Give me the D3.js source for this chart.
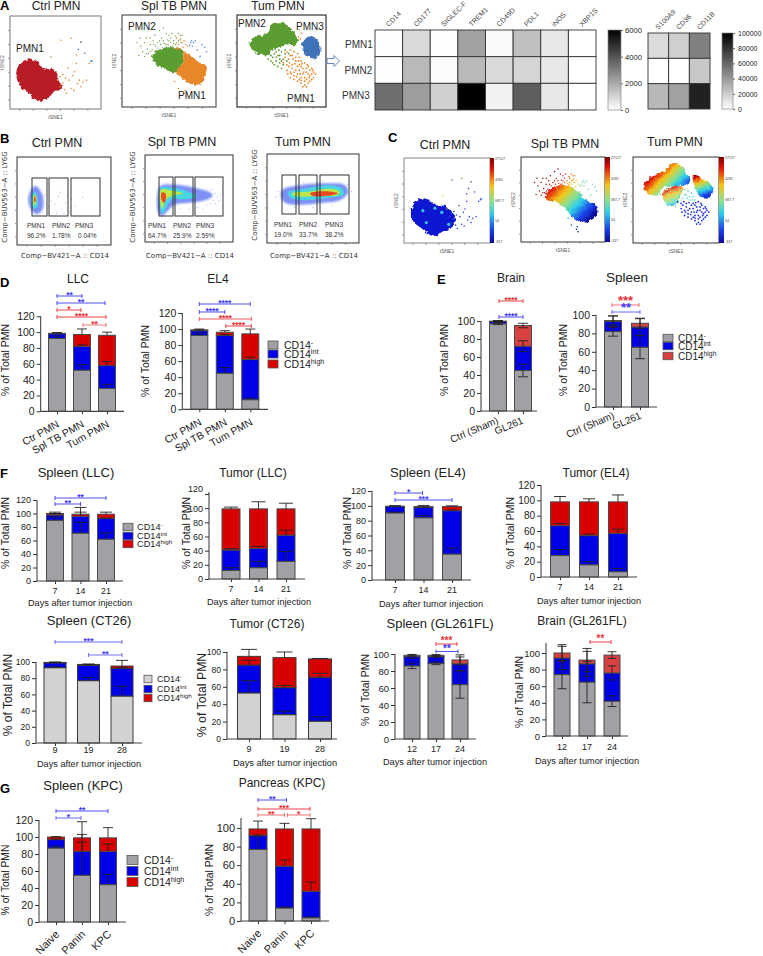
<!DOCTYPE html>
<html><head><meta charset="utf-8">
<script src="https://cdn.jsdelivr.net/npm/d3@7"></script>
<style>
html,body{margin:0;padding:0;background:#fff}
svg{position:absolute;left:0;top:0;display:block}
text{font-family:"Liberation Sans",Arial,sans-serif;fill:#222}
</style></head><body>
<svg id="fig" width="763" height="956" viewBox="0 0 763 956"></svg>
<script>
/* ---------- heatmap data (panel A) ---------- */
const heatCols1=["CD14","CD177","SIGLEC-F","TREM1","CD49D","PDL1","iNOS","XBP1S"];
const heatCols2=["S100A9","CD36","CD11B"];
const heatRows=["PMN1","PMN2","PMN3"];
const heat1PMN1=[50,900,50,2200,150,1500,550,0];
const heat1PMN2=[50,1650,100,1650,900,1000,550,0];
const heat1PMN3=[3400,2300,1100,6000,300,3800,550,0];
const heat2PMN1=[14000,19000,50000];
const heat2PMN2=[0,0,22000];
const heat2PMN3=[28000,37000,87000];
const barTicks1=[0,2000,4000,6000];
const barTicks2=[0,20000,40000,60000,80000,100000];

/* ---------- t-SNE outlines and sparse events (percent of the plot axes) ---------- */
const ctrlRedHull=[[7,40],[10,47],[15,52],[25,53],[33,49],[37,43],[47,43],[52,39],[52,31],[56,26],[57,21],[49,19],[44,14],[36,9],[27,11],[20,17],[12,24],[8,31]];
const ctrlOrangeDots=[[55,35],[58,37],[53,31],[65,31],[73,49],[71,40],[76,31],[78,24],[84,31],[67,22],[60,21],[80,29],[64,44],[78,72],[67,76],[56,74],[73,58],[87,49],[62,17],[55,24],[61,33],[69,36],[74,27],[70,20],[58,28]];
const ctrlBlueDots=[[82,60],[89,51],[75,64],[78,72],[90,52]];
const ctrlGreenDots=[[45,56],[50,40]];
const splGreenHull=[[32,54],[36,60],[41,63],[51,65],[64,62],[64,47],[58,38],[48,40],[42,44],[37,45]];
const splOrangeHull=[[53,65],[62,62],[69,58],[80,50],[90,44],[89,36],[87,29],[80,23],[74,25],[69,27],[63,32],[57,38],[64,47],[64,62]];
const splGreenDots=[[16,70],[20,66],[24,70],[22,60],[27,63],[30,68],[33,72],[28,58],[24,55],[35,78],[38,70],[42,75],[45,69],[48,73],[40,83],[44,86],[50,78],[52,70],[55,72],[57,77],[60,80],[62,74],[64,78],[36,66],[32,62],[46,64],[30,75],[26,75],[19,75],[54,66],[58,70],[41,68],[35,60],[18,56],[50,72],[52,75],[47,68],[44,72],[55,69],[60,72],[57,68],[49,68],[38,64],[30,60],[26,58],[34,68],[40,72],[63,70],[53,80],[47,80]];
const splOrangeDots=[[62,73],[64,70],[66,72],[60,68],[68,68],[58,75],[70,66],[62,78],[65,65],[67,18],[68,12],[66,15],[56,28],[60,20]];
const splBlueDots=[[74,72],[76,70],[73,70],[78,72],[75,66],[85,68],[88,65],[90,60],[83,55],[80,62],[72,67]];
const tumGreenHull=[[14,70],[20,76],[34,80],[39,90],[49,92],[59,87],[66,78],[68,71],[65,67],[56,69],[51,66],[41,64],[35,57],[26,57],[19,60]];
const tumBlueHull=[[73,69],[80,77],[90,73],[94,62],[88,53],[78,56]];
const tumOrangeDots=[[56,60],[60,62],[64,60],[68,58],[70,54],[62,56],[58,52],[66,50],[72,50],[76,48],[80,44],[84,42],[86,38],[82,34],[78,38],[74,42],[68,44],[62,46],[56,46],[52,48],[56,40],[60,38],[64,34],[68,36],[72,32],[76,28],[80,26],[84,30],[86,32],[74,22],[78,22],[72,26],[68,28],[64,30],[60,32],[70,40],[66,40],[74,36],[80,36],[76,32],[88,36],[82,40],[58,44],[62,42],[54,54],[70,46],[66,54],[78,42],[60,56],[76,24],[70,30],[64,38],[82,28],[72,44],[84,36],[65,47],[59,48],[73,47],[67,33],[71,36],[78,30],[81,32],[63,52],[69,50],[75,38],[61,36],[57,36],[72,29],[85,40],[79,46]];
const tumGreenDots=[[36,58],[40,54],[44,60],[48,56],[52,52],[44,50],[38,50],[48,48],[54,58],[42,46],[46,44],[50,42],[35,52],[52,46],[56,50],[40,62],[47,62],[58,58],[42,58],[38,56],[46,56],[50,60],[44,54],[40,48],[50,50],[36,60],[48,52],[54,62],[32,56],[43,63]];
const tumBlueDots=[[70,84],[72,80],[69,76],[71,74]];
/* heat-map panel C shares the t-SNE maps */
const ctrlBlueHull=[[8,37],[11,45],[15,50],[26,52],[36,45],[50,43],[55,38],[58,33],[59,23],[52,17],[44,13],[34,8],[21,17],[11,25]];
const ctrlHotSpots=[[22,38],[26,24],[52,22],[36,41],[44,36]];
const spl2Hull=[[31,59],[50,67],[66,61],[78,49],[90,43],[90,32],[78,23],[66,26],[52,39],[43,47],[31,49]];
const tum2MainHull=[[14,70],[22,77],[36,83],[47,93],[57,89],[63,79],[67,73],[61,68],[47,66],[34,64],[30,56],[20,56],[14,62]];
const tum2MidHull=[[34,58],[47,66],[57,64],[55,54],[49,44],[39,44],[35,50]];
const tum2RightHull=[[70,79],[80,75],[93,66],[90,54],[78,54],[72,64]];
/* density contours for panel B, low to high */
const flowLevels=["#7b90f5","#48d4e2","#b8e84a","#ea4a20"];
const flowCtrl=[[[12,51],[15,63],[20,67],[27,57],[27,40],[21,35],[15,40]],[[15,51],[17,59],[20,60],[22,51],[21,42],[17,42]],[[17,51],[18,57],[20,56],[20,47],[18,45]],[[18,52],[19,56],[20,51],[19,48]]];
const flowSpl=[[[17,64],[34,66],[57,62],[74,57],[77,53],[68,48],[51,45],[34,43],[19,30],[15,34]],[[18,62],[34,62],[51,57],[59,52],[45,49],[31,49],[20,33],[17,40]],[[18,60],[31,59],[43,56],[31,53],[23,48],[20,38],[18,42]],[[19,57],[23,56],[24,52],[22,45],[19,48]]];
const flowTum=[[[17,60],[36,65],[63,67],[85,65],[88,57],[79,48],[58,45],[36,43],[20,45],[15,52]],[[23,57],[41,61],[66,65],[82,61],[83,54],[68,51],[41,48],[25,51]],[[27,56],[47,58],[68,61],[79,58],[77,54],[60,53],[41,52],[29,53]],[[47,56],[68,58],[77,56],[66,53],[49,53]]];
const flowCtrlDots=[[36,50],[40,46],[44,55],[48,42],[52,48],[56,38],[34,44],[46,60],[58,52],[62,44],[30,56],[54,56],[70,54],[42,36],[50,36]];
const flowSplDots=[[78,48],[82,52],[80,56],[74,44],[84,48],[70,42],[60,40],[50,38],[40,38],[66,38],[80,44],[76,60],[86,54]];
const flowTumDots=[[10,52],[12,58],[92,58],[90,50],[88,66],[70,42],[50,40],[30,40],[60,70],[40,68]];
const flowPct1=["96.2%","1.78%","0.04%"],flowPct2=["64.7%","25.9%","2.59%"],flowPct3=["19.0%","33.7%","38.2%"];
const flowGateNames=["PMN1","PMN2","PMN3"];
const jetLabels=["27127","4281","687.7","54","-317"];

/* ---------- stacked bar data ---------- */
const catsPMN=["Ctr PMN","Spl TB PMN","Tum PMN"];
const catsSham=["Ctrl (Sham)","GL261"];
const daysA=["7","14","21"],daysB=["9","19","28"],daysC=["12","17","24"];
const catsKPC=["Naive","Panin","KPC"];
const ticks120=[0,20,40,60,80,100,120];
const ticks100=[0,20,40,60,80,100];
const llcGrey=[92,52,29],llcInt=[6,30,29],llcHigh=[0.5,15,38],llcSd=[[3,7,5],[1,2,5],[1,7,4]];
const el4Grey=[92,45,12],el4Int=[6,47,50],el4High=[1,4,32],el4Sd=[[3,7,2],[1,1,3],[1,2,6]];
const brainGrey=[97,45],brainInt=[2.5,27],brainHigh=[0.3,23],brainSd=[[1,7],[1,6],[0.5,2.5]];
const spleenGrey=[82,65],spleenInt=[11,22],spleenHigh=[1,4],spleenSd=[[5,12.5],[6,9],[5,5.5]];
const splLLCGrey=[90,71,62],splLLCInt=[8,25,31],splLLCHigh=[2,3,6],splLLCSd=[[5,16,9],[2,6,0],[2,10,3]];
const tumLLCGrey=[12,16,25],tumLLCInt=[29,27,37],tumLLCHigh=[58,56,37],tumLLCSd=[[4,9,14],[2,3,7],[2.5,10,8]];
const splEL4Grey=[90.5,84,35],splEL4Int=[8.5,14,58.5],splEL4High=[0.5,1,5.5],splEL4Sd=[[1,3,8],[1,0,1],[0.5,1.5,1]];
const tumEL4Grey=[28,16,7],tumEL4Int=[39,38,50],tumEL4High=[31,44,41],tumEL4Sd=[[8,4,4],[3,2,5.5],[7,4,9]];
const splCTGrey=[93,77,58],splCTInt=[6,19,34],splCTHigh=[0.5,1,3],splCTSd=[[1,4,12],[0.5,1,1],[0.5,0.5,7]];
const tumCTGrey=[53,28,20.5],tumCTInt=[32,31,50.5],tumCTHigh=[10,34.5,21],tumCTSd=[[14,4,5],[5.5,2.5,4.5],[8,6.5,0.5]];
const splGLGrey=[86,89,64],splGLInt=[11,8,24.5],splGLHigh=[1.5,1.5,4.5],splGLSd=[[3.2,1.5,16],[2,1,8],[1,1,6]];
const brGLGrey=[74,65,42],brGLInt=[20,22,34],brGLHigh=[6,4.5,21.5],brGLSd=[[17,25,6.5],[14,15,8.5],[10,14,4]];
const splKPCGrey=[87,55,44],splKPCInt=[10,28,39],splKPCHigh=[3,16,16],splKPCSd=[[2,39,12],[0.5,20,9],[0.5,19,12]];
const panKPCGrey=[77,14,3.5],panKPCInt=[15,45,28.5],panKPCHigh=[7,40,67],panKPCSd=[[14,1,1],[0.5,6.5,10],[8.5,6,11]];
const legendSup=["-","int","high"];

/* ---------- drawing ---------- */
const svg=d3.select("#fig");
const defs=svg.append("defs");
defs.append("filter").attr("id","soft").append("feGaussianBlur").attr("stdDeviation",0.7);
defs.append("filter").attr("id","soft2").append("feGaussianBlur").attr("stdDeviation",1.2);
const rough=defs.append("filter").attr("id","rough").attr("x","-10%").attr("y","-10%").attr("width","120%").attr("height","120%");
rough.append("feTurbulence").attr("type","fractalNoise").attr("baseFrequency",.28).attr("numOctaves",2).attr("seed",4).attr("result","n");
rough.append("feDisplacementMap").attr("in","SourceGraphic").attr("in2","n").attr("scale",5).attr("xChannelSelector","R").attr("yChannelSelector","G");
const GREY="#a0a0a5",BLUE="#0000e6",RED="#d80000",RED2="#d94040",LGREY="#d2d2d2";
const SB="#3d3df2",SR="#ea2f35";
const jet=[[0,"#7a0000"],[0.12,"#e01005"],[0.33,"#f5c518"],[0.5,"#8fe08a"],[0.65,"#30d0e8"],[0.85,"#1a40e8"],[1,"#0a0a9a"]];

function txt(s,x,y,size,anchor,opts={}){
  const t=svg.append("text").attr("x",x).attr("y",y).attr("font-size",size).attr("text-anchor",anchor||"start").text(s);
  if(opts.rot!==undefined){t.attr("transform",`rotate(${opts.rot},${x},${y})`);}
  if(opts.weight)t.attr("font-weight",opts.weight);
  if(opts.fill)t.style("fill",opts.fill);
  if(opts.family)t.style("font-family",opts.family);
  return t;
}
function boxFrame(b,col,sw){
  const x=d3.scaleLinear([0,100],[b.x0,b.x1]),y=d3.scaleLinear([0,100],[b.y1,b.y0]);
  const g=svg.append("g");
  g.append("rect").attr("x",b.x0).attr("y",b.y0).attr("width",b.x1-b.x0).attr("height",b.y1-b.y0).attr("fill","#fff").attr("stroke",col||"#555").attr("stroke-width",sw||1);
  const tv=[10,25,40,55,70,85];
  const ax=g.append("g").attr("transform",`translate(0,${b.y1})`).call(d3.axisBottom(x).tickValues(tv).tickSize(2).tickFormat(""));
  const ay=g.append("g").attr("transform",`translate(${b.x0},0)`).call(d3.axisLeft(y).tickValues(tv).tickSize(2).tickFormat(""));
  [ax,ay].forEach(a=>{a.select(".domain").remove();a.selectAll("line").attr("stroke","#777").attr("stroke-width",.7);});
  return {x,y,g};
}
const hullPath=(f,x,y)=>d3.line().x(d=>x(d[0])).y(d=>y(d[1])).curve(d3.curveCatmullRomClosed.alpha(.5))(f);
function hull(f,p,fill,op,flt){
  const e=p.g.append("path").attr("d",hullPath(f,p.x,p.y)).attr("fill",fill).attr("opacity",op===undefined?1:op);
  if(flt)e.attr("filter",`url(#${flt})`);
}
function dots(list,p,fill,r){
  p.g.selectAll(null).data(list).enter().append("circle").attr("cx",d=>p.x(d[0])).attr("cy",d=>p.y(d[1])).attr("r",r||.9).attr("fill",fill);
}
function tsneLabels(b){
  txt("tSNE1",(b.x0+b.x1)/2,b.y1+10,5,"middle",{fill:"#555"});
  txt("tSNE2",b.x0-6,(b.y0+b.y1)/2,5,"middle",{rot:-90,fill:"#555"});
}
/* Panel A */
const GR="#5b9d32",OR="#e8862a",BL="#3f72b8",DR="#b81f27";
const a1={x0:10,x1:101,y0:16,y1:109},a2={x0:122,x1:216,y0:15,y1:107},a3={x0:237,x1:326,y0:15,y1:107};
let p=boxFrame(a1,"#777",1);tsneLabels(a1);
hull(ctrlRedHull,p,DR,1,"rough");dots(ctrlOrangeDots,p,OR,.8);dots(ctrlBlueDots,p,BL,.8);dots(ctrlGreenDots,p,GR,.7);
p=boxFrame(a2,"#555",1.2);tsneLabels(a2);
dots(splGreenDots,p,"#6aa83f",.7);hull(splGreenHull,p,GR,1,"rough");hull(splOrangeHull,p,OR,1,"rough");dots(splOrangeDots,p,OR,.8);dots(splBlueDots,p,"#5a8ed0",.8);
p=boxFrame(a3,"#333",1.2);tsneLabels(a3);
dots(tumGreenDots,p,GR,.9);dots(tumOrangeDots,p,OR,.9);hull(tumGreenHull,p,GR,1,"rough");hull(tumBlueHull,p,BL,1,"rough");dots(tumBlueDots,p,OR,.8);
[["Ctrl PMN",56,9.5],["Spl TB PMN",174,9.5],["Tum PMN",278,9.5]].forEach(d=>txt(d[0],d[1],d[2],12,"middle"));
[["PMN1",16,52],["PMN2",128,30],["PMN1",178,99],["PMN2",238,27],["PMN3",296,30],["PMN1",287,102]].forEach(d=>txt(d[0],d[1],d[2],10,"start"));
svg.append("path").attr("d","M327,58.5h7v-3l5.5,5.5l-5.5,5.5v-3h-7z").attr("fill","#fff").attr("stroke","#5a78b8").attr("stroke-width",.9);

function heat(x0,x1,y0,y1,cols,rows,max){
  const xs=d3.scaleBand(cols,[x0,x1]),ys=d3.scaleBand(heatRows,[y0,y1]);
  const col=d3.scaleLinear([0,max],["#ffffff","#000000"]);
  rows.forEach((r,i)=>{
    svg.selectAll(null).data(r).enter().append("rect")
      .attr("x",(d,j)=>xs(cols[j])).attr("y",ys(heatRows[i])).attr("width",xs.bandwidth()).attr("height",ys.bandwidth())
      .attr("fill",d=>col(d)).attr("stroke","#333").attr("stroke-width",.9);
  });
  cols.forEach(c=>{const cx=xs(c)+xs.bandwidth()/2;
    txt(c,cx,y0-3,7,"start",{rot:-45,fill:"#444"});});
}
heat(375,596,30,110,heatCols1,[heat1PMN1,heat1PMN2,heat1PMN3],6000);
heat(648,710,33,109,heatCols2,[heat2PMN1,heat2PMN2,heat2PMN3],100000);
heatRows.forEach((r,i)=>txt(r,[345,344.5,342][i],[48,74,99][i],10,"start",{fill:"#333"}));
const greyG=defs.append("linearGradient").attr("id","greyBar").attr("x1",0).attr("y1",0).attr("x2",0).attr("y2",1);
greyG.append("stop").attr("offset",0).attr("stop-color","#000");greyG.append("stop").attr("offset",1).attr("stop-color","#fff");
function greyBar(x0,x1,y0,y1,ticks,max,font,dx){
  svg.append("rect").attr("x",x0).attr("y",y0).attr("width",x1-x0).attr("height",y1-y0).attr("fill","url(#greyBar)").attr("stroke","#888").attr("stroke-width",.7);
  const y=d3.scaleLinear([0,max],[y1,y0]);
  const a=svg.append("g").attr("transform",`translate(${x1},0)`).call(d3.axisRight(y).tickValues(ticks).tickSize(2).tickFormat(d3.format("d")));
  a.select(".domain").remove();a.selectAll("line").attr("stroke","#666");
  a.selectAll("text").attr("font-size",font).style("font-family","Liberation Sans").attr("dx",dx);
}
greyBar(608,621,30,110,barTicks1,6000,7.6,-1);greyBar(722,733,33,109,barTicks2,100000,7,0);

/* Panel B */
function flow(b,levels,sparse,gates,pct,nameX,pctX,yName,title,tx,ty,lx,cy,axX){
  const q=boxFrame(b,"#333",1);
  dots(sparse,q,"#8a9cf0",.5);
  levels.forEach((lv,i)=>hull(lv,q,flowLevels[i],1,i==0?"soft2":"soft"));
  gates.forEach(g=>svg.append("rect").attr("x",g[0]).attr("y",g[2]).attr("width",g[1]-g[0]).attr("height",g[3]-g[2]).attr("fill","none").attr("stroke","#333").attr("stroke-width",1));
  flowGateNames.forEach((n,i)=>{txt(n,nameX[i],yName,6.5,"start",{fill:"#333"});txt(pct[i],pctX[i],yName+9.5,6.5,"start",{fill:"#333"});});
  txt(title,tx,ty,12.5,"middle");
  txt("Comp\u2212BUV563\u2212A :: LY6G",lx,cy,7,"middle",{rot:-90,family:"DejaVu Sans",fill:"#333"});
  txt("Comp\u2212BV421\u2212A :: CD14",axX,258,7,"middle",{family:"DejaVu Sans",fill:"#333"});
}
flow({x0:17,x1:111,y0:157,y1:245},flowCtrl,flowCtrlDots,[[32,47,178,216],[49,68,178,216],[71,100,178,216]],flowPct1,[27,52,75],[27,52,78],228,"Ctrl PMN",57,147,7,197,65);
flow({x0:145,x1:233,y0:155,y1:242},flowSpl,flowSplDots,[[159,173,177,216],[175,193,177,216],[195,223,177,216]],flowPct2,[148,173,196],[148,173,196],228,"Spl TB PMN",182,146,135,197,190);
flow({x0:267,x1:359,y0:154,y1:243},flowTum,flowTumDots,[[282,296,175,214],[299,317,175,214],[320,349,175,214]],flowPct3,[274,299,325],[274,299,325],227,"Tum PMN",303,146,257,195,314);

/* Panel C */
function jetGrad(id,x1,y1,x2,y2){
  const g=defs.append("linearGradient").attr("id",id).attr("gradientUnits","userSpaceOnUse").attr("x1",x1).attr("y1",y1).attr("x2",x2).attr("y2",y2);
  jet.forEach(s=>g.append("stop").attr("offset",s[0]).attr("stop-color",s[1]));
  return `url(#${id})`;
}
function jetBar(id,x0,x1,y0,y1){
  const f=jetGrad(id,0,y0,0,y1);
  svg.append("rect").attr("x",x0).attr("y",y0).attr("width",x1-x0).attr("height",y1-y0).attr("fill",f);
  const ys=d3.scalePoint(jetLabels,[y0+1,y1-1]);
  jetLabels.forEach(l=>txt(l,x1+1,ys(l)+1,3.6,"start",{fill:"#444"}));
}
const c1={x0:404,x1:490,y0:158,y1:243},c2={x0:521,x1:605,y0:157,y1:242},c3={x0:633,x1:719,y0:157,y1:243};
p=boxFrame(c1,"#888",1);tsneLabels(c1);jetBar("jb1",490,494,158,243);
hull(ctrlBlueHull,p,"#0a14d0",1,"rough");dots(ctrlHotSpots,p,"#38c8e0",1.6);dots(ctrlOrangeDots,p,"#2a50e0",.8);dots(ctrlBlueDots,p,"#2a50e0",.8);dots(ctrlGreenDots,p,"#e8d830",.7);
dots([[67,76],[56,74],[78,72]],p,"#e8c840",.8);
p=boxFrame(c2,"#333",1);tsneLabels(c2);jetBar("jb2",605,610,157,242);
const g2=jetGrad("g2",p.x(30),p.y(68),p.x(78),p.y(22));
dots(splGreenDots,p,g2,.7);dots(splOrangeDots,p,g2,.8);dots(splBlueDots,p,"#7ad8a0",.8);
hull(spl2Hull,p,g2,1,"rough");
p=boxFrame(c3,"#333",1);tsneLabels(c3);jetBar("jb3",719,724,157,243);
const g3=jetGrad("g3",p.x(28),p.y(90),p.x(62),p.y(56));
const g3b=jetGrad("g3b",p.x(40),p.y(66),p.x(52),p.y(36));
const g3c=jetGrad("g3c",p.x(72),p.y(80),p.x(84),p.y(50));
hull(tum2MainHull,p,g3,1,"rough");hull(tum2MidHull,p,g3b,.8,"rough");hull(tum2RightHull,p,g3c,1,"rough");
dots(tumOrangeDots.filter(d=>d[1]<50),p,"#1a30e0",.9);dots(tumOrangeDots.filter(d=>d[1]>=50),p,"#48d8c8",.8);dots(tumGreenDots,p,"#b0e070",.7);
[["Ctrl PMN",445,149],["Spl TB PMN",565,148],["Tum PMN",675,146]].forEach(d=>txt(d[0],d[1],d[2],12.5,"middle"));

/* Stacked bars */
function bars(c){
  const [c0,c1]=c.centres;
  const x=d3.scalePoint(c.cats,[c0,c1]);
  const y=d3.scaleLinear([0,c.max],[c.y0,c.yTop]);
  const g=svg.append("g");
  const stack=c.grey.map((v,i)=>({grey:v,int:c.int[i],high:c.high[i],cat:c.cats[i]}));
  const ser=d3.stack().keys(["grey","int","high"])(stack);
  const fills=[c.greyFill||GREY,BLUE,c.highFill||RED];
  ser.forEach((s,si)=>{
    g.selectAll(null).data(s).enter().append("rect")
      .attr("x",d=>x(d.data.cat)-c.w/2).attr("width",c.w)
      .attr("y",d=>y(d[1])).attr("height",d=>Math.max(0,y(d[0])-y(d[1])))
      .attr("fill",fills[si]).attr("stroke",c.edge||"#4a4a4a").attr("stroke-width",1);
  });
  ser.forEach((s,si)=>{
    s.forEach((d,i)=>{
      const top=d[1],sd=c.sd[si][i],cx=x(d.data.cat),hw=c.cap||5;
      const lo=c.both?top-sd:top,hi=top+sd;
      const e=g.append("g").attr("stroke","#222").attr("stroke-width",.9);
      e.append("line").attr("x1",cx).attr("x2",cx).attr("y1",y(lo)).attr("y2",y(hi));
      e.append("line").attr("x1",cx-hw).attr("x2",cx+hw).attr("y1",y(hi)).attr("y2",y(hi));
      if(c.both)e.append("line").attr("x1",cx-hw).attr("x2",cx+hw).attr("y1",y(lo)).attr("y2",y(lo));
    });
  });
  /* axes */
  const ax=d3.axisLeft(y).tickValues(c.ticks).tickSize(4).tickPadding(2);
  const ag=g.append("g").attr("transform",`translate(${c.ax},0)`).call(ax);
  ag.select(".domain").remove();
  ag.append("line").attr("x1",0).attr("x2",0).attr("y1",c.y0).attr("y2",c.axTop||c.yTop).attr("stroke","#333").attr("stroke-width",1);
  ag.selectAll("text").attr("font-size",c.tickFont||10.5).style("fill","#222");
  ag.selectAll(".tick line").attr("stroke","#333");
  if(c.nudgeTop)ag.selectAll(".tick").filter(d=>d===c.max).select("text").attr("dy","-0.3em");
  const bg=g.append("g").attr("transform",`translate(0,${c.y0})`).call(d3.axisBottom(x).tickSize(3).tickFormat(""));
  bg.select(".domain").remove();bg.selectAll("line").attr("stroke","#333");
  g.append("line").attr("x1",c.ax).attr("x2",c.xEnd).attr("y1",c.y0).attr("y2",c.y0).attr("stroke","#444").attr("stroke-width",1.2);
  /* texts */
  txt(c.title,c.tx,c.ty,c.titleFont||12,"middle");
  txt("% of Total PMN",c.lx,c.ly,c.labelFont||10.5,"middle",{rot:-90});
  if(c.rot!==undefined){
    c.cats.forEach(k=>txt(k,x(k)+(c.rotDx||3),c.y0+(c.rotDy||14),c.xFont||10.5,"end",{rot:c.rot}));
  }else{
    c.cats.forEach(k=>txt(k,x(k),c.tickY,9,"middle"));
    txt("Days after tumor injection",c.xlx,c.xly,9.2,"middle");
  }
  /* significance brackets */
  (c.sig||[]).forEach(b=>{
    const x1=x(c.cats[b[0]])+(b[5]||0),x2=x(c.cats[b[1]])+(b[6]||0),yy=b[2],col=b[4];
    const sg=g.append("g").attr("stroke",col).attr("stroke-width",.9).attr("opacity",b[7]||1);
    sg.append("path").attr("fill","none").attr("d",`M${x1},${yy-2}V${yy+2}M${x1},${yy}H${x2}M${x2},${yy-2}V${yy+2}`);
    const fs=b[8]||8.5;
    txt(b[3],(x1+x2)/2,yy+(fs>=10?0:1.5),fs,"middle",{fill:col,weight:"bold"});
  });
}
function legend(x,ys,tx,w,h,font,fills){
  legendSup.forEach((s,i)=>{
    svg.append("rect").attr("x",x).attr("y",ys[i]-h/2).attr("width",w).attr("height",h).attr("fill",fills[i]).attr("stroke","#555").attr("stroke-width",.8);
    const t=txt("CD14",tx,ys[i]+font*.36,font,"start");
    t.append("tspan").attr("dy",-font*.35).attr("font-size",font*.68).text(s);
  });
}
bars({cats:catsPMN,grey:llcGrey,int:llcInt,high:llcHigh,sd:llcSd,ticks:ticks120,max:120,
  ax:40.7,y0:411.3,yTop:316.3,xEnd:124,centres:[57,107],w:17,title:"LLC",tx:78,ty:283,lx:8.5,ly:360,rot:-29,rotDx:3,rotDy:15,
  sig:[[0,1,296,"**",SB,0,0],[0,2,303,"**",SB,0,-2],[0,1,310,"*",SR,0,-1],[0,2,317,"****",SR,0,-1],[1,2,325,"**",SR,1,-1,.7]]});
bars({cats:catsPMN,grey:el4Grey,int:el4Int,high:el4High,sd:el4Sd,ticks:ticks120,max:120,
  ax:182.3,y0:409.3,yTop:313,xEnd:268,centres:[199.3,250.3],w:17,title:"EL4",tx:218,ty:283,lx:149,ly:361,rot:-29,rotDx:3,rotDy:15,
  sig:[[0,2,304,"****",SB],[0,1,312,"****",SB],[0,2,319,"****",SR,0,1,.9],[1,2,326,"****",SR,1,1]]});
legend(268,[345,354,364],284,10,8,10.5,[GREY,BLUE,RED]);
bars({cats:catsSham,grey:brainGrey,int:brainInt,high:brainHigh,sd:brainSd,both:true,ticks:ticks100,max:100,
  ax:481,y0:411,yTop:321,xEnd:537,centres:[498,523],w:17,cap:5,highFill:RED2,title:"Brain",tx:511,ty:282,lx:448,ly:360,rot:-23,rotDx:1,rotDy:12,xFont:10,
  sig:[[0,1,301,"****",SR,1,0],[0,1,317,"****",SB,1,0]]});
bars({cats:catsSham,grey:spleenGrey,int:spleenInt,high:spleenHigh,sd:spleenSd,both:true,ticks:ticks100,max:100,
  ax:596,y0:407,yTop:315,xEnd:657,centres:[613,640],w:17,cap:5,highFill:RED2,title:"Spleen",titleFont:13.5,tx:627,ty:282,lx:567,ly:360,rot:-23,rotDx:2,rotDy:11,xFont:10,
  sig:[[0,1,305,"***",SR,-1,-1,.75,13],[0,1,312,"**",SB,-1,0,.85,13]]});
legend(663,[338,346,356],678,10,7.5,10,[GREY,BLUE,RED2]);
bars({cats:daysA,grey:splLLCGrey,int:splLLCInt,high:splLLCHigh,sd:splLLCSd,ticks:ticks120,max:120,
  ax:37,y0:581,yTop:500,xEnd:123,centres:[55,106],w:17,cap:6,title:"Spleen (LLC)",titleFont:13,tx:76,ty:477,lx:8.5,ly:533,tickFont:9,tickY:594,xlx:80,xly:606,
  sig:[[0,2,498,"**",SB],[0,1,504,"**",SB]]});
legend(123,[527,536,544],137,10,7.5,9.2,[GREY,BLUE,RED]);
bars({cats:daysA,grey:tumLLCGrey,int:tumLLCInt,high:tumLLCHigh,sd:tumLLCSd,ticks:ticks120,max:120,nudgeTop:true,
  ax:209,y0:579,yTop:494,axTop:492,xEnd:305,centres:[231,286],w:18,cap:7,title:"Tumor (LLC)",tx:253,ty:477,lx:190,ly:533,tickFont:9,tickY:592,xlx:259,xly:605});
bars({cats:daysA,grey:splEL4Grey,int:splEL4Int,high:splEL4High,sd:splEL4Sd,ticks:ticks120,max:120,
  ax:372,y0:580,yTop:491,xEnd:471,centres:[395,452],w:19,cap:6,title:"Spleen (EL4)",titleFont:13,tx:428,ty:477,lx:351,ly:533,tickFont:9,tickY:593,xlx:431,xly:607,
  sig:[[0,1,493,"*",SB,0,-1],[0,2,500,"***",SB]]});
bars({cats:daysA,grey:tumEL4Grey,int:tumEL4Int,high:tumEL4High,sd:tumEL4Sd,ticks:ticks120,max:120,
  ax:541,y0:577,yTop:485,xEnd:637,centres:[560,618],w:19,cap:6,title:"Tumor (EL4)",tx:596,ty:477,lx:514,ly:533,tickFont:10,tickY:590,xlx:589,xly:604});
bars({cats:daysB,grey:splCTGrey,int:splCTInt,high:splCTHigh,sd:splCTSd,greyFill:LGREY,ticks:ticks100,max:100,edge:"#3a3a3a",
  ax:36,y0:743,yTop:662,xEnd:142,centres:[55,122],w:22,cap:6,title:"Spleen (CT26)",titleFont:13,tx:89,ty:625,lx:12,ly:695,labelFont:12,tickFont:8.5,tickY:753,xlx:89,xly:767,
  sig:[[0,2,642,"***",SB,0,0,.85],[1,2,655,"**",SB,0,0,.8]]});
legend(144,[679,689,698],157,8,7.5,9,[LGREY,BLUE,RED]);
bars({cats:daysB,grey:tumCTGrey,int:tumCTInt,high:tumCTHigh,sd:tumCTSd,greyFill:LGREY,ticks:ticks100,max:100,edge:"#3a3a3a",
  ax:227,y0:739,yTop:652,xEnd:337,centres:[249,320],w:23,cap:8,title:"Tumor (CT26)",tx:267,ty:628,lx:206,ly:695,labelFont:12.3,tickFont:8.5,tickY:752,xlx:285,xly:766});
bars({cats:daysC,grey:splGLGrey,int:splGLInt,high:splGLHigh,sd:splGLSd,both:true,highFill:RED2,ticks:ticks100,max:100,
  ax:395,y0:739,yTop:654,xEnd:476,centres:[412,460],w:16,cap:4.5,title:"Spleen (GL261FL)",titleFont:13,tx:440,ty:628,lx:369,ly:690,tickFont:9.5,tickY:752,xlx:435,xly:765,
  sig:[[1,2,644,"***",SR,0,-3,1,10],[1,2,651.5,"**",SB,0,-2,1,10]]});
bars({cats:daysC,grey:brGLGrey,int:brGLInt,high:brGLHigh,sd:brGLSd,both:true,highFill:RED2,ticks:ticks100,max:100,
  ax:546,y0:736,yTop:653,axTop:643,xEnd:628,centres:[562,612],w:16,cap:4.5,title:"Brain (GL261FL)",tx:582,ty:625,lx:523,ly:692,tickFont:9.5,tickY:750,xlx:587,xly:764,
  sig:[[1,2,642,"**",SR,3,-1,1,10]]});
bars({cats:catsKPC,grey:splKPCGrey,int:splKPCInt,high:splKPCHigh,sd:splKPCSd,ticks:ticks120,max:120,
  ax:39,y0:922,yTop:820,xEnd:126,centres:[56,108],w:17,cap:5,title:"Spleen (KPC)",titleFont:13,tx:83,ty:790,lx:8.5,ly:880,labelFont:10.3,rot:-45,rotDx:4,rotDy:13,xFont:11,tickFont:10.5,
  sig:[[0,1,818,"*",SB,0,-1,.85],[0,2,811,"**",SB]]});
legend(127,[860,871,882],144,11,9,10.5,[GREY,BLUE,RED]);
bars({cats:catsKPC,grey:panKPCGrey,int:panKPCInt,high:panKPCHigh,sd:panKPCSd,ticks:ticks100,max:100,
  ax:241,y0:921,yTop:828,axTop:818,xEnd:329,centres:[258,311],w:18,cap:5,title:"Pancreas (KPC)",tx:282,ty:787,lx:213,ly:880,rot:-45,rotDx:4,rotDy:13,xFont:11,tickFont:11,
  sig:[[0,1,800,"**",SB,0,2],[0,2,809,"***",SR,0,-1],[0,1,815,"**",SR,0,0,.75],[1,2,815,"*",SR,3,-1,.75]]});

/* panel letters */
[["A",0,10],["B",0,143],["C",388,142],["D",0,287],["E",437,284],["F",0,478],["G",0,793]].forEach(d=>txt(d[0],d[1],d[2],13,"start",{weight:"bold",fill:"#000"}));
</script>
</body></html>
